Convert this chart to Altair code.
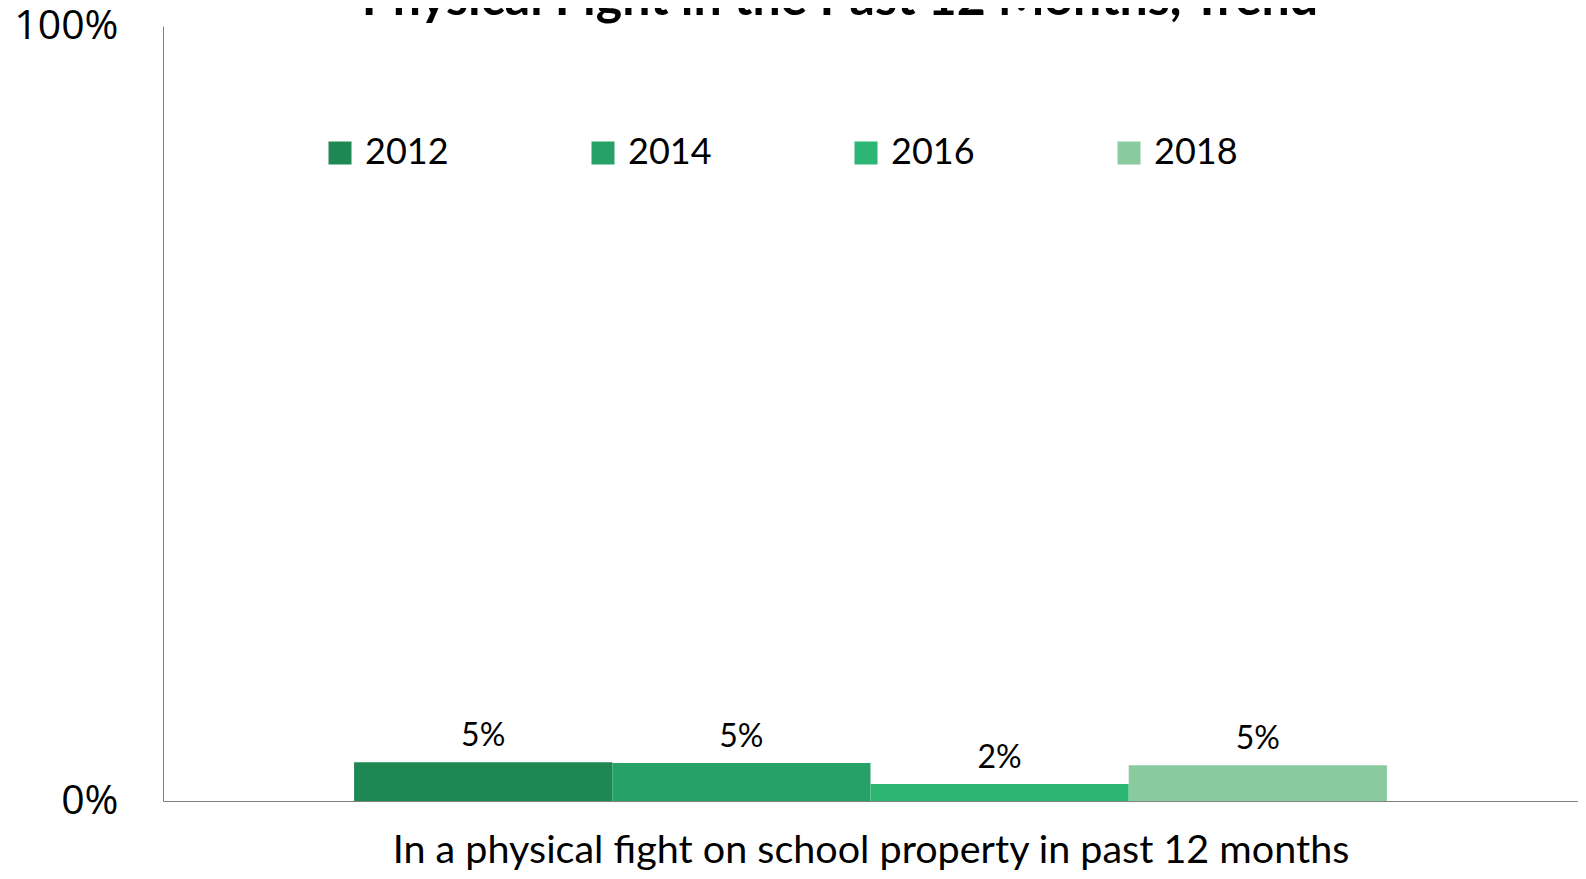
import altair as alt
import pandas as pd

title_text = "Physical Fight in the Past 12 Months, Trend"
question = "In a physical fight on school property in past 12 months"
years = ["2012", "2014", "2016", "2018"]
values = [5.0, 4.9, 2.2, 4.6]
labels = ["5%", "5%", "2%", "5%"]
colors = ["#1f8754", "#26a268", "#2cb673", "#8aca9f"]
y_ticks = [0, 100]

df = pd.DataFrame({
    "question": [question] * len(years),
    "year": years,
    "value": values,
    "label": labels,
})

x_enc = alt.X(
    "question:N",
    scale=alt.Scale(paddingInner=0, paddingOuter=0.185),
    axis=alt.Axis(
        title=question, labels=False, ticks=False, domainColor="#808080",
        titleFont="Lato", titleFontSize=39.5, titleFontWeight="normal",
        titleColor="black", titlePadding=61, titleBaseline="alphabetic",
    ),
)
y_enc = alt.Y(
    "value:Q",
    scale=alt.Scale(domain=[0, 100]),
    axis=alt.Axis(
        title=None, values=y_ticks, labelExpr="datum.value + '%'",
        grid=False, ticks=False, domainColor="#808080", labelFlush=False,
        labelFont="Open Sans", labelFontSize=41, labelPadding=45, labelColor="black",
    ),
)
xoff = alt.XOffset("year:N", scale=alt.Scale(paddingInner=0, paddingOuter=0, domain=years))

bars = alt.Chart(df).mark_bar().encode(
    x=x_enc, y=y_enc, xOffset=xoff,
    color=alt.Color(
        "year:N",
        scale=alt.Scale(domain=years, range=colors),
        legend=alt.Legend(
            title=None, orient="none", legendX=159, legendY=109,
            direction="horizontal", symbolType="square", symbolSize=529,
            symbolStrokeWidth=0, symbolOpacity=1, labelFont="Lato",
            labelFontSize=36, labelOffset=7, columnPadding=136,
            labelColor="black", labelLimit=300,
        ),
    ),
)

text = alt.Chart(df).mark_text(
    baseline="bottom", dy=-9, font="Lato", fontSize=32, color="black"
).encode(x=x_enc, y=y_enc, xOffset=xoff, text="label:N")

title = alt.Chart(pd.DataFrame({"t": [title_text]})).mark_text(
    font="Lato", fontSize=50, fontWeight="bold", color="black",
    baseline="alphabetic", align="center",
).encode(text="t:N", x=alt.value(677), y=alt.value(-11))

chart = alt.layer(bars, text, title).properties(
    width=1415, height=775,
    padding={"left": 155, "top": 18, "right": 0, "bottom": 70},
    autosize=alt.AutoSizeParams(type="none"),
).configure_view(stroke=None)

chart.save("out.html", embed_options={"renderer": "svg", "actions": False})
